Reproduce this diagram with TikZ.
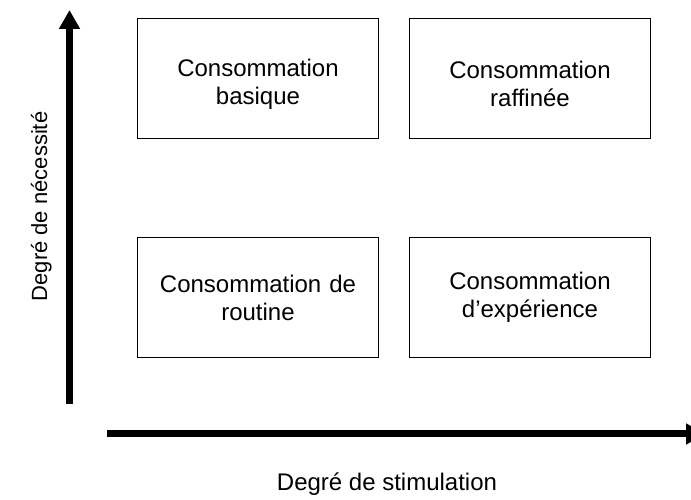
\documentclass[tikz,border=0pt]{standalone}
\usepackage{fontspec}
\setmainfont{Liberation Sans}
\usetikzlibrary{positioning, arrows.meta}
\tikzstyle{quadrant} = [rectangle, minimum width=241pt, minimum height=120pt, text centered, text width=230pt, draw=black, line width=1pt, font=\fontsize{24}{28}\selectfont]
\tikzstyle{lowered} = [text height=29pt]
\tikzstyle{axis} = [line width=7pt, -{Triangle[width=20pt,length=19pt]}]
\tikzstyle{axislabel} = [font=\fontsize{24}{28}\selectfont, anchor=base]

\begin{document}
\begin{tikzpicture}[x=1pt, y=1pt, node distance=30pt]
\clip (0,0) rectangle (691,500);

%Nodes
\node (basique) [quadrant, lowered] at (258,421.5) {Consommation\\basique};
\node (raffinee) [quadrant, lowered, right=30pt of basique] {Consommation\\raffinée};
\node (routine) [quadrant, below=98pt of basique] {Consommation de\\routine};
\node (experience) [quadrant, right=30pt of routine] {Consommation\\d’expérience};

%Axes
\coordinate (ybottom) at (69.5,96);
\coordinate (ytop) at (69.5,490);
\coordinate (xleft) at (107,66);
\coordinate (xright) at (705,66);
\draw [axis] (ybottom) -- (ytop);
\draw [axis] (xleft) -- (xright);

%Labels
\node (stimulation) [axislabel] at (387,9) {Degré de stimulation};
\node (necessite) [axislabel, rotate=90, font=\fontsize{22}{26}\selectfont] at (47,293.5) {Degré de nécessité};

\end{tikzpicture}
\end{document}
